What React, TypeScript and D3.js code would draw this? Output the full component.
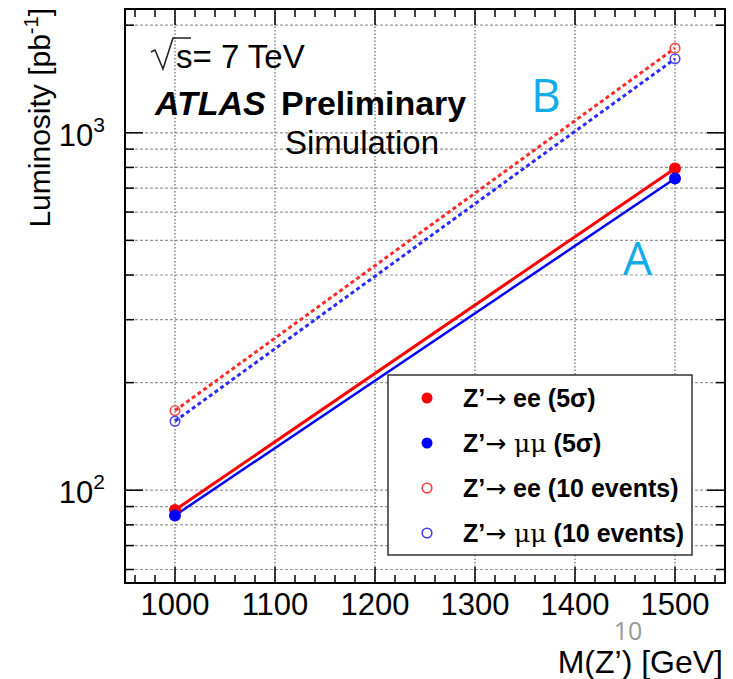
import React, { useEffect, useRef } from "react";
import * as d3 from "d3";

// Z' discovery luminosity vs mass
const masses = [1000, 1500];
const eeSigma5 = [88, 795];
const mumuSigma5 = [85, 745];
const ee10 = [167, 1725];
const mumu10 = [156, 1610];

const xMajor = [1000, 1100, 1200, 1300, 1400, 1500];
const xMinor = d3.range(960, 1550, 20);
const yMajor = [100, 1000];
const yExp: Record<number, string> = { 100: "2", 1000: "3" };
const yMinor = [60, 70, 80, 90, 200, 300, 400, 500, 600, 700, 800, 900, 2000];

const legendItems = [
  { txt: " ee (5σ)", mu: false, color: "#ff0000", filled: true },
  { txt: " (5σ)", mu: true, color: "#0000ff", filled: true },
  { txt: " ee (10 events)", mu: false, color: "#ff3b3b", filled: false },
  { txt: " (10 events)", mu: true, color: "#3b3bff", filled: false },
];

const FONT = "'Liberation Sans', Arial, Helvetica, sans-serif";

const App = () => {
  const ref = useRef<SVGSVGElement>(null);

  useEffect(() => {
    const svg = d3.select(ref.current);
    svg.selectAll("*").remove();

    const left = 125, right = 725, top = 9, bottom = 583;
    const x = d3.scaleLinear().domain([950, 1550]).range([left, right]);
    const y = d3.scaleLog().domain([55, 2220]).range([bottom, top]);

    svg.append("rect").attr("width", 733).attr("height", 679).attr("fill", "#fff");

    // grid
    const grid = svg.append("g").attr("stroke", "#999").attr("stroke-width", 1.2);
    grid.selectAll("line.h")
      .data([...yMajor, ...yMinor])
      .join("line")
      .attr("x1", left).attr("x2", right)
      .attr("y1", (d) => y(d)).attr("y2", (d) => y(d))
      .attr("stroke-dasharray", "3,2");
    grid.selectAll("line.v")
      .data(xMajor)
      .join("line")
      .attr("class", "v")
      .attr("y1", top).attr("y2", bottom)
      .attr("x1", (d) => x(d)).attr("x2", (d) => x(d))
      .attr("stroke", "#666")
      .attr("stroke-dasharray", "1.5,2");

    // ticks (bottom/top, left/right)
    const ticks = svg.append("g").attr("stroke", "#000").attr("stroke-width", 1.5);
    const xt = [...xMajor.map((v) => ({ v, l: 16 })), ...xMinor.filter((v) => v % 100 !== 0).map((v) => ({ v, l: 8 }))];
    xt.forEach(({ v, l }) => {
      ticks.append("line").attr("x1", x(v)).attr("x2", x(v)).attr("y1", bottom).attr("y2", bottom - l);
      ticks.append("line").attr("x1", x(v)).attr("x2", x(v)).attr("y1", top).attr("y2", top + l);
    });
    const yt = [...yMajor.map((v) => ({ v, l: 18 })), ...yMinor.map((v) => ({ v, l: 9 }))];
    yt.forEach(({ v, l }) => {
      ticks.append("line").attr("x1", left).attr("x2", left + l).attr("y1", y(v)).attr("y2", y(v));
      ticks.append("line").attr("x1", right).attr("x2", right - l).attr("y1", y(v)).attr("y2", y(v));
    });

    // frame
    svg.append("rect")
      .attr("x", left).attr("y", top)
      .attr("width", right - left).attr("height", bottom - top)
      .attr("fill", "none").attr("stroke", "#000").attr("stroke-width", 2);

    // tick labels
    svg.append("g")
      .selectAll("text")
      .data(xMajor)
      .join("text")
      .attr("x", (d) => x(d)).attr("y", 615)
      .attr("text-anchor", "middle")
      .style("font-family", FONT).style("font-size", "31px")
      .text((d) => d);

    yMajor.forEach((v) => {
      const t = svg.append("text")
        .attr("x", 105).attr("y", y(v) + 13)
        .attr("text-anchor", "end")
        .style("font-family", FONT).style("font-size", "31px");
      t.append("tspan").text("10");
      t.append("tspan").attr("dy", -14).style("font-size", "21px").text(yExp[v]);
    });

    // axis titles
    const yl = svg.append("text")
      .attr("transform", "translate(50,8) rotate(-90)")
      .attr("text-anchor", "end")
      .style("font-family", FONT).style("font-size", "30px");
    yl.append("tspan").text("Luminosity [pb");
    yl.append("tspan").attr("dy", -12).style("font-size", "20px").text("-1");
    yl.append("tspan").attr("dy", 12).text("]");

    svg.append("text")
      .attr("x", 723).attr("y", 673)
      .attr("text-anchor", "end")
      .style("font-family", FONT).style("font-size", "32px")
      .text("M(Z’) [GeV]");
    svg.append("text")
      .attr("x", 628).attr("y", 640)
      .attr("text-anchor", "middle")
      .style("font-family", "'Open Sans', sans-serif").style("font-size", "25px")
      .attr("fill", "#999")
      .text("10");

    // lines
    const line = d3.line<number>().x((_, i) => x(masses[i])).y((d) => y(d));
    const series = [
      { vals: eeSigma5, color: "#ff0000", mark: "#ff0000", dash: null, w: 3, filled: true },
      { vals: mumuSigma5, color: "#0000ff", mark: "#0000ff", dash: null, w: 2.5, filled: true },
      { vals: ee10, color: "#ff2a2a", mark: "#ff4a4a", dash: "4,3", w: 3, filled: false },
      { vals: mumu10, color: "#2a2aff", mark: "#4a4aff", dash: "4,3", w: 3, filled: false },
    ];
    series.forEach((s) => {
      svg.append("path")
        .attr("d", line(s.vals))
        .attr("fill", "none")
        .attr("stroke", s.color)
        .attr("stroke-width", s.w)
        .attr("stroke-dasharray", s.dash);
    });
    series.forEach((s) => {
      svg.append("g")
        .selectAll("circle")
        .data(s.vals)
        .join("circle")
        .attr("cx", (_, i) => x(masses[i]))
        .attr("cy", (d) => y(d))
        .attr("r", s.filled ? 6 : 4.8)
        .attr("fill", s.filled ? s.mark : "none")
        .attr("stroke", s.filled ? "none" : s.mark)
        .attr("stroke-width", 1.6);
    });

    // header text
    const h = svg.append("g").style("font-family", FONT).style("font-size", "33px");
    h.append("path")
      .attr("d", "M151,52 L155,50 L163,69 L173,38 L191,38")
      .attr("fill", "none").attr("stroke", "#222").attr("stroke-width", 1.6)
      .attr("stroke-linejoin", "miter");
    h.append("text").attr("x", 176).attr("y", 68).text("s= 7 TeV");
    h.append("text").attr("x", 155).attr("y", 115).style("font-size", "34px")
      .style("font-weight", "bold").style("font-style", "italic").text("ATLAS");
    h.append("text").attr("x", 281).attr("y", 115).style("font-size", "34px")
      .style("font-weight", "bold").text("Preliminary");
    h.append("text").attr("x", 285).attr("y", 154).text("Simulation");

    const lab = svg.append("g").style("font-family", "'Open Sans', sans-serif")
      .style("font-size", "46px").attr("fill", "#12ade8");
    lab.append("text").attr("x", 531).attr("y", 112).text("B");
    lab.append("text").attr("x", 623).attr("y", 275).text("A");

    // legend
    const lg = svg.append("g");
    lg.append("rect")
      .attr("x", 388).attr("y", 375).attr("width", 304).attr("height", 180)
      .attr("fill", "#fff").attr("stroke", "#333").attr("stroke-width", 1.5);
    legendItems.forEach((it, i) => {
      const cy = 398 + i * 45;
      lg.append("circle")
        .attr("cx", 427).attr("cy", cy)
        .attr("r", it.filled ? 5.5 : 4.8)
        .attr("fill", it.filled ? it.color : "none")
        .attr("stroke", it.filled ? "none" : it.color)
        .attr("stroke-width", 1.6);
      const t = lg.append("text")
        .attr("x", 463).attr("y", cy + 9)
        .style("font-family", FONT).style("font-size", "25px");
      t.append("tspan").style("font-weight", "bold").text("Z’");
      t.append("tspan").style("font-family", "'DejaVu Sans', sans-serif")
        .style("font-size", "25px").text("→");
      if (it.mu) {
        t.append("tspan").style("font-family", "'DejaVu Serif', serif").text(" μμ");
      }
      t.append("tspan").style("font-weight", "bold").text(it.txt);
    });
  }, []);

  return (
    <svg
      ref={ref}
      width={733}
      height={679}
      style={{ position: "absolute", left: 0, top: 0 }}
    />
  );
};

export default App;
